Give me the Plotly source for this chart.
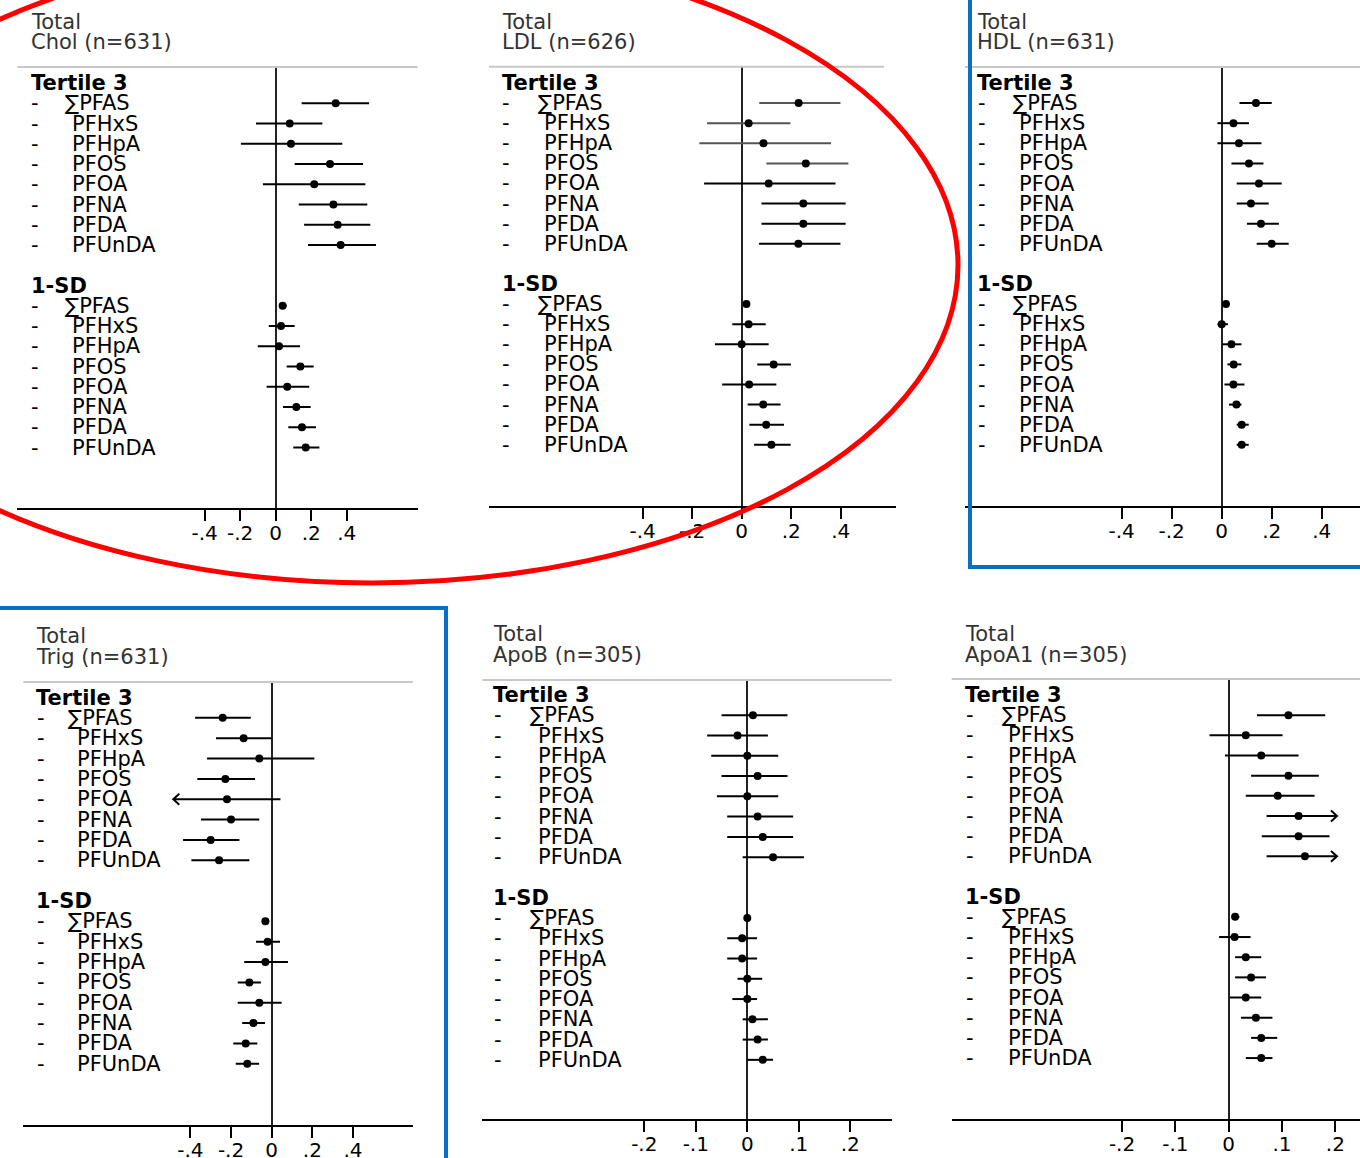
import plotly.graph_objects as go

W, H = 1360, 1158
FONT = "DejaVu Sans"

# ---------------- data ----------------
exposures = ["∑PFAS", "PFHxS", "PFHpA", "PFOS", "PFOA", "PFNA", "PFDA", "PFUnDA"]
block_labels = ["Tertile 3", "1-SD"]
outcome_labels = ["Chol (n=631)", "LDL (n=626)", "HDL (n=631)",
                  "Trig (n=631)", "ApoB (n=305)", "ApoA1 (n=305)"]
group_label = "Total"

ticks_wide = [-0.4, -0.2, 0, 0.2, 0.4]
ticktext_wide = ["-.4", "-.2", "0", ".2", ".4"]
ticks_narrow = [-0.2, -0.1, 0, 0.1, 0.2]
ticktext_narrow = ["-.2", "-.1", "0", ".1", ".2"]

# first 8 values: Tertile 3, last 8 values: 1-SD
chol_est = [0.338, 0.079, 0.086, 0.306, 0.217, 0.325, 0.349, 0.366,
            0.039, 0.030, 0.019, 0.139, 0.065, 0.116, 0.148, 0.169]
chol_lo = [0.146, -0.111, -0.196, 0.107, -0.072, 0.130, 0.160, 0.182,
           0.020, -0.039, -0.101, 0.062, -0.051, 0.041, 0.071, 0.099]
chol_hi = [0.526, 0.263, 0.375, 0.492, 0.505, 0.516, 0.533, 0.565,
           0.062, 0.107, 0.137, 0.214, 0.189, 0.197, 0.227, 0.246]

ldl_est = [0.230, 0.028, 0.088, 0.259, 0.109, 0.249, 0.249, 0.229,
           0.019, 0.028, 0.000, 0.129, 0.030, 0.087, 0.099, 0.120]
ldl_lo = [0.071, -0.140, -0.171, 0.100, -0.152, 0.080, 0.080, 0.070,
          0.008, -0.038, -0.108, 0.063, -0.079, 0.024, 0.031, 0.050]
ldl_hi = [0.399, 0.197, 0.361, 0.431, 0.379, 0.420, 0.420, 0.399,
          0.031, 0.097, 0.109, 0.199, 0.140, 0.157, 0.171, 0.198]

hdl_est = [0.137, 0.047, 0.069, 0.109, 0.149, 0.117, 0.157, 0.200,
           0.017, 0.000, 0.039, 0.048, 0.047, 0.059, 0.080, 0.080]
hdl_lo = [0.071, -0.017, -0.017, 0.039, 0.060, 0.060, 0.101, 0.140,
          0.007, -0.017, 0.004, 0.023, 0.011, 0.029, 0.060, 0.060]
hdl_hi = [0.200, 0.109, 0.159, 0.167, 0.240, 0.188, 0.229, 0.268,
          0.031, 0.025, 0.079, 0.079, 0.091, 0.079, 0.108, 0.108]

trig_est = [-0.241, -0.138, -0.061, -0.228, -0.220, -0.200, -0.300, -0.259,
            -0.031, -0.020, -0.031, -0.110, -0.061, -0.090, -0.128, -0.120]
trig_lo = [-0.377, -0.274, -0.318, -0.366, -0.484, -0.348, -0.436, -0.395,
           -0.046, -0.077, -0.135, -0.167, -0.167, -0.145, -0.189, -0.177]
trig_hi = [-0.103, 0.000, 0.210, -0.082, 0.043, -0.061, -0.159, -0.110,
           -0.015, 0.041, 0.080, -0.053, 0.049, -0.033, -0.071, -0.062]

apob_est = [0.011, -0.019, 0.000, 0.020, 0.000, 0.020, 0.030, 0.050,
            0.000, -0.010, -0.010, 0.000, 0.000, 0.010, 0.020, 0.030]
apob_lo = [-0.050, -0.078, -0.070, -0.050, -0.059, -0.039, -0.039, -0.009,
           -0.006, -0.039, -0.039, -0.019, -0.029, -0.009, -0.009, 0.000]
apob_hi = [0.078, 0.040, 0.060, 0.078, 0.060, 0.089, 0.089, 0.110,
           0.006, 0.019, 0.019, 0.029, 0.019, 0.040, 0.040, 0.050]

apoa1_est = [0.112, 0.032, 0.061, 0.112, 0.092, 0.131, 0.131, 0.143,
             0.012, 0.011, 0.032, 0.042, 0.032, 0.051, 0.061, 0.061]
apoa1_lo = [0.053, -0.036, -0.007, 0.042, 0.032, 0.071, 0.062, 0.071,
            0.006, -0.018, 0.012, 0.012, 0.002, 0.023, 0.042, 0.032]
apoa1_hi = [0.181, 0.101, 0.131, 0.169, 0.161, 0.203, 0.189, 0.203,
            0.020, 0.041, 0.061, 0.070, 0.061, 0.082, 0.091, 0.082]

# truncated confidence intervals (drawn with an arrow) : index into the 16 rows
trig_arrow_lo = [4]
apoa1_arrow_hi = [5, 7]

# ---------------- layout (pixel geometry) ----------------
panels = [
    dict(est=chol_est, lo=chol_lo, hi=chol_hi, tv=ticks_wide, tt=ticktext_wide,
         xpx=(17.3, 417.7), zero=275.7, ppu=177.5, gray=(17.3, 417.7), gray_y=67,
         row0=83, step=20.25, axis_y=508, tx=30.7, ty=(21.5, 42), dash=31, sig=65, name=72.3,
         alo=[], ahi=[], soft=[]),
    dict(est=ldl_est, lo=ldl_lo, hi=ldl_hi, tv=ticks_wide, tt=ticktext_wide,
         xpx=(489, 896), zero=741.7, ppu=247.5, gray=(489, 884), gray_y=66.7,
         row0=83, step=20.1, axis_y=506, tx=501.7, ty=(21.5, 42), dash=502, sig=538.3, name=544,
         alo=[], ahi=[], soft=[0, 1, 2, 3]),
    dict(est=hdl_est, lo=hdl_lo, hi=hdl_hi, tv=ticks_wide, tt=ticktext_wide,
         xpx=(965, 1360), zero=1221.7, ppu=250, gray=(965, 1360), gray_y=67,
         row0=83, step=20.1, axis_y=506, tx=977.3, ty=(21.5, 42), dash=977.5, sig=1013.3, name=1019.3,
         alo=[], ahi=[], soft=[]),
    dict(est=trig_est, lo=trig_lo, hi=trig_hi, tv=ticks_wide, tt=ticktext_wide,
         xpx=(23.3, 412.7), zero=271.7, ppu=203.3, gray=(23.3, 412.7), gray_y=682,
         row0=697.5, step=20.35, axis_y=1125, tx=36, ty=(636, 656.5), dash=36.5, sig=68.3, name=77.3,
         alo=trig_arrow_lo, ahi=[], soft=[]),
    dict(est=apob_est, lo=apob_lo, hi=apob_hi, tv=ticks_narrow, tt=ticktext_narrow,
         xpx=(482.3, 891.7), zero=747.3, ppu=515, gray=(482.3, 891.7), gray_y=680,
         row0=695, step=20.27, axis_y=1119, tx=493.3, ty=(634.5, 655), dash=494, sig=530, name=538.3,
         alo=[], ahi=[], soft=[]),
    dict(est=apoa1_est, lo=apoa1_lo, hi=apoa1_hi, tv=ticks_narrow, tt=ticktext_narrow,
         xpx=(951.7, 1360), zero=1228.7, ppu=533.3, gray=(951.7, 1360), gray_y=679,
         row0=695, step=20.17, axis_y=1119, tx=965, ty=(634.5, 655), dash=965.5, sig=1001.7, name=1008.3,
         alo=[], ahi=apoa1_arrow_hi, soft=[]),
]

rows = list(range(1, 9)) + list(range(11, 19))
header_rows = [0, 10]

fig = go.Figure()
annotations = []
shapes = []
layout_axes = {}

for i, (p, outcome) in enumerate(zip(panels, outcome_labels), start=1):
    sfx = "" if i == 1 else str(i)
    xa, ya = "x" + sfx, "y" + sfx
    x0, x1 = p["xpx"]
    xr = [(x0 - p["zero"]) / p["ppu"], (x1 - p["zero"]) / p["ppu"]]
    yr = [(p["axis_y"] - p["row0"]) / p["step"], (p["gray_y"] - p["row0"]) / p["step"]]
    layout_axes["xaxis" + sfx] = dict(
        domain=[x0 / W, min(x1 / W, 1.0)], range=xr, anchor=ya, automargin=False,
        showline=True, linecolor="black", linewidth=2,
        ticks="outside", ticklen=11, tickwidth=2, tickcolor="black",
        ticklabelstandoff=-5,
        tickvals=p["tv"], ticktext=p["tt"],
        tickfont=dict(family=FONT, size=20, color="black"),
        showgrid=False, zeroline=True, zerolinecolor="#222", zerolinewidth=1.5,
        fixedrange=True)
    layout_axes["yaxis" + sfx] = dict(
        domain=[1 - p["axis_y"] / H, 1 - p["gray_y"] / H], range=yr, anchor=xa,
        automargin=False, visible=False, showgrid=False, zeroline=False, fixedrange=True)

    # CI segments (black, plus softer grey ones where the reference shows them)
    lines = {"black": ([], []), "#555555": ([], [])}
    dx = 6 / p["ppu"]
    for k, (r, lo, hi) in enumerate(zip(rows, p["lo"], p["hi"])):
        lx, ly = lines["#555555" if k in p["soft"] else "black"]
        lx += [lo, hi, None]
        ly += [r, r, None]
    lx, ly = lines["black"]
    for k in p["alo"]:
        r, lo = rows[k], p["lo"][k]
        lx += [lo + dx, lo, lo + dx, None]
        ly += [r - 0.27, r, r + 0.27, None]
    for k in p["ahi"]:
        r, hi = rows[k], p["hi"][k]
        lx += [hi - dx, hi, hi - dx, None]
        ly += [r - 0.27, r, r + 0.27, None]
    for col, (lx, ly) in lines.items():
        if lx:
            fig.add_trace(go.Scatter(x=lx, y=ly, mode="lines", xaxis=xa, yaxis=ya,
                                     line=dict(color=col, width=2), hoverinfo="skip",
                                     showlegend=False))
    fig.add_trace(go.Scatter(x=p["est"], y=rows, mode="markers", xaxis=xa, yaxis=ya,
                             marker=dict(color="black", size=8), showlegend=False))

    # titles
    for txt, ty in zip([group_label, outcome], p["ty"]):
        annotations.append(dict(text=txt, xref="paper", yref="paper",
                                x=(p["tx"] - 2) / W, y=1 - ty / H, xanchor="left",
                                yanchor="middle", showarrow=False,
                                font=dict(family=FONT, size=21, color="#333")))
    # block headers
    for txt, r in zip(block_labels, header_rows):
        annotations.append(dict(text="<b>" + txt + "</b>", xref="paper", yref=ya,
                                x=(p["tx"] - 2) / W, y=r, xanchor="left", yanchor="middle",
                                showarrow=False, font=dict(family=FONT, size=21, color="black")))
    # row labels
    for j, r in enumerate(rows):
        name = exposures[j % 8]
        nx = p["sig"] if j % 8 == 0 else p["name"]
        annotations.append(dict(text="-", xref="paper", yref=ya, x=(p["dash"] - 2) / W, y=r,
                                xanchor="left", yanchor="middle", showarrow=False,
                                font=dict(family=FONT, size=21, color="black")))
        annotations.append(dict(text=name, xref="paper", yref=ya, x=(nx - 2) / W, y=r,
                                xanchor="left", yanchor="middle", showarrow=False,
                                font=dict(family=FONT, size=21, color="black")))

    # gray top rule
    g0, g1 = p["gray"]
    shapes.append(dict(type="line", xref="paper", yref="paper",
                       x0=g0 / W, x1=g1 / W, y0=1 - p["gray_y"] / H, y1=1 - p["gray_y"] / H,
                       line=dict(color="#c8c8c8", width=2)))

# highlight marks
shapes.append(dict(type="circle", xref="paper", yref="paper",
                   x0=(372 - 586) / W, x1=(372 + 586) / W,
                   y0=1 - (265 + 318) / H, y1=1 - (265 - 318) / H,
                   line=dict(color="#ff0000", width=5), layer="above"))
shapes.append(dict(type="rect", xref="paper", yref="paper",
                   x0=970 / W, x1=1380 / W, y0=1 - 567 / H, y1=1 + 20 / H,
                   line=dict(color="#0a6fc2", width=4), layer="above"))
shapes.append(dict(type="rect", xref="paper", yref="paper",
                   x0=-20 / W, x1=446 / W, y0=1 - 1180 / H, y1=1 - 608 / H,
                   line=dict(color="#0a6fc2", width=4), layer="above"))

fig.update_layout(width=W, height=H, margin=dict(l=0, r=0, t=0, b=0, pad=0, autoexpand=False),
                  paper_bgcolor="white", plot_bgcolor="white",
                  annotations=annotations, shapes=shapes, showlegend=False,
                  font=dict(family=FONT), **layout_axes)

fig.write_html("out.html", config={"displayModeBar": False},
               post_script="document.body.style.margin='0';document.body.style.overflow='hidden';")
